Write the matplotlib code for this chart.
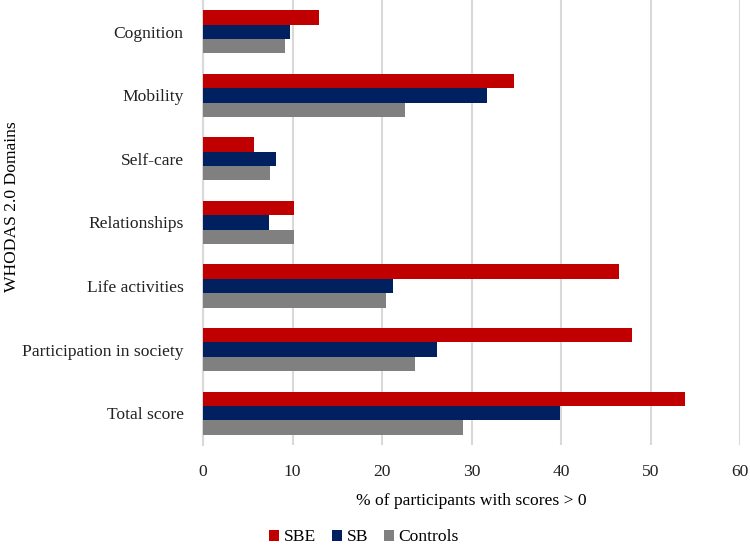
import numpy as np
import matplotlib
matplotlib.use("Agg")
import matplotlib.pyplot as plt

# data
domains = ["Cognition", "Mobility", "Self-care", "Relationships",
           "Life activities", "Participation in society", "Total score"]
sbe = [13.0, 34.8, 5.7, 10.2, 46.5, 47.9, 53.8]
sb = [9.7, 31.7, 8.1, 7.4, 21.2, 26.1, 39.9]
controls = [9.2, 22.6, 7.5, 10.2, 20.4, 23.7, 29.1]

plt.rcParams['font.family'] = ['Liberation Serif', 'DejaVu Serif']
fs = 12.6

fig = plt.figure(figsize=(7.5, 5.5), dpi=100)
ax = fig.add_axes([0.2707, 0.191, 0.716, 0.809])

y = np.arange(len(domains))
h = 0.226
ax.barh(y - h, sbe, height=h, color="#C00000", label="SBE", zorder=3)
ax.barh(y, sb, height=h, color="#002060", label="SB", zorder=3)
ax.barh(y + h, controls, height=h, color="#808080", label="Controls", zorder=3)

ax.set_ylim(len(domains) - 0.5, -0.5)
ax.set_xlim(0, 60)
ax.set_xticks(range(0, 61, 10))
ax.set_yticks(y)
ax.set_yticklabels(domains)
ax.tick_params(axis='both', length=0, labelsize=fs, colors="#222222")
ax.tick_params(axis='y', pad=14)
ax.tick_params(axis='x', pad=14)

ax.grid(axis='x', color="#d9d9d9", linewidth=1.5, zorder=0)
for s in ["top", "right", "bottom"]:
    ax.spines[s].set_visible(False)
ax.spines["left"].set_color("#d9d9d9")
ax.spines["left"].set_linewidth(1.5)

ax.set_xlabel("% of participants with scores > 0", fontsize=fs, labelpad=9)
fig.text(0.005, 0.624, "WHODAS 2.0 Domains", rotation=90, fontsize=fs,
         ha="left", va="center")

fig.legend(loc="lower center", bbox_to_anchor=(0.485, -0.02), ncol=3,
           frameon=False, fontsize=fs, handlelength=0.6, handleheight=0.6,
           handletextpad=0.25, columnspacing=0.9)

fig.savefig("out.png", dpi=100)
